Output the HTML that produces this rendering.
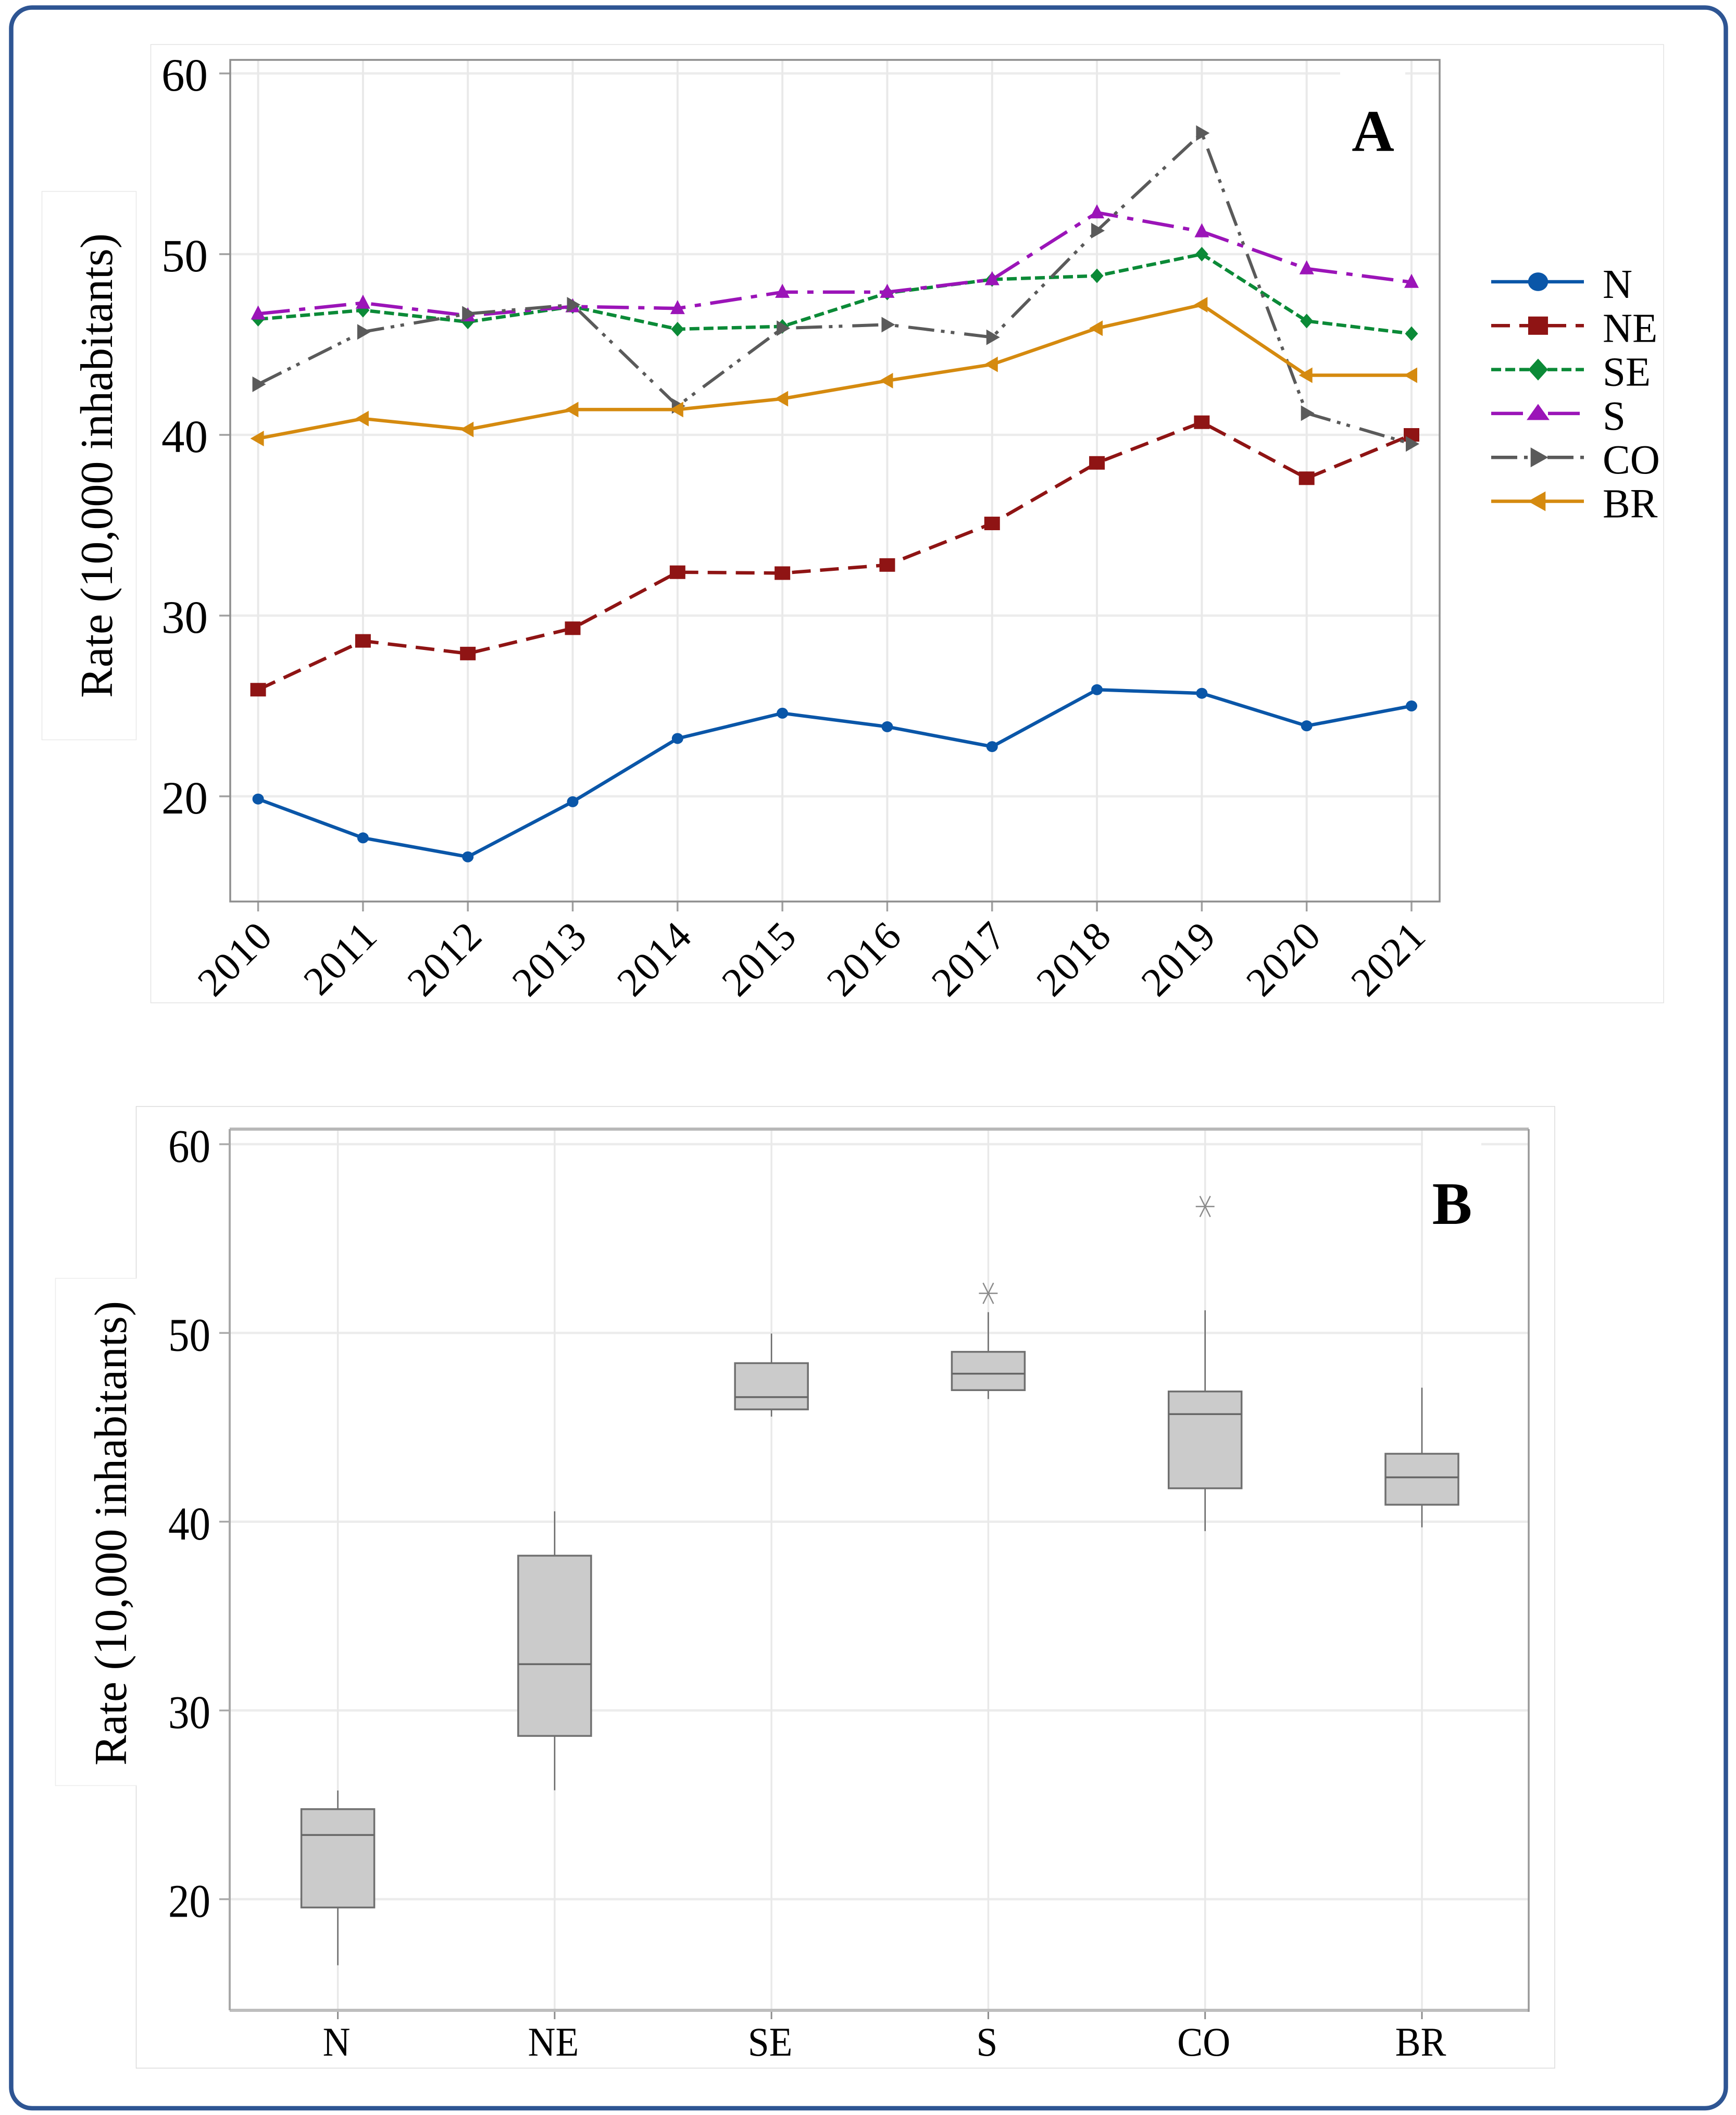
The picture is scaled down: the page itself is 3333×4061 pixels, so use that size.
<!DOCTYPE html>
<html lang="en">
<head>
<meta charset="utf-8">
<title>Rate per 10,000 inhabitants by region</title>
<style>
html,body{margin:0;padding:0;background:#fff;}
svg{display:block;font-family:"Liberation Serif",serif;}
</style>
</head>
<body>
<svg id="fig" xmlns="http://www.w3.org/2000/svg" width="3333" height="4061" viewBox="0 0 3333 4061">
  <rect x="0" y="0" width="3333" height="4061" fill="#ffffff"/>
  <rect x="21.5" y="14.5" width="3292" height="4033.5" rx="40" ry="40" fill="none" stroke="#2e5593" stroke-width="8.5"/>
  <rect x="289.5" y="85.5" width="2904.5" height="1840" fill="#fff" stroke="#e2e2e2" stroke-width="1.5"/>
  <rect x="80.5" y="367.5" width="181" height="1053" fill="#fff" stroke="#e8e8e8" stroke-width="1.5"/>
  <rect x="261.5" y="2124.5" width="2723.5" height="1846.5" fill="#fff" stroke="#dadada" stroke-width="1.5"/>
  <path d="M262 2454.5H106.5V3428.5H262" fill="#fff" stroke="#ececec" stroke-width="1.5"/>
  <rect x="258" y="2456" width="8" height="971" fill="#fff"/>

  <g id="chartA"></g>
  <g id="chartB"></g>

  <text transform="translate(215,894) rotate(-90)" text-anchor="middle" font-size="88" fill="#000">Rate (10,000 inhabitants)</text>
  <text transform="translate(242,2944) rotate(-90)" text-anchor="middle" font-size="88" fill="#000">Rate (10,000 inhabitants)</text>
  <text x="2636" y="290" text-anchor="middle" font-size="113" font-weight="bold" fill="#000">A</text>
  <text x="2788" y="2350" text-anchor="middle" font-size="115" font-weight="bold" fill="#000">B</text>
</svg>
<script>
// ---------- Panel A data ----------
const years = ['2010','2011','2012','2013','2014','2015','2016','2017','2018','2019','2020','2021'];
const yTicksA = [20,30,40,50,60];
const seriesN  = [19.85,17.7,16.65,19.7,23.2,24.6,23.85,22.75,25.9,25.7,23.9,25.0];
const seriesNE = [25.9,28.6,27.9,29.3,32.4,32.35,32.8,35.1,38.45,40.7,37.6,40.0];
const seriesSE = [46.4,46.9,46.25,47.1,45.85,46.0,47.85,48.6,48.8,50.0,46.3,45.6];
const seriesS  = [46.7,47.3,46.6,47.1,47.0,47.9,47.9,48.6,52.3,51.25,49.2,48.45];
const seriesCO = [42.8,45.7,46.7,47.2,41.6,45.9,46.1,45.4,51.3,56.7,41.2,39.5];
const seriesBR = [39.8,40.9,40.3,41.4,41.4,42.0,43.0,43.9,45.9,47.2,43.3,43.3];

// ---------- Panel B data ----------
const regions = ['N','NE','SE','S','CO','BR'];
const yTicksB = [20,30,40,50,60];
const boxMin    = [16.5,25.77,45.57,46.5,39.5,39.7];
const boxQ1     = [19.56,28.65,45.95,46.97,41.77,40.9];
const boxMedian = [23.4,32.45,46.6,47.84,45.7,42.35];
const boxQ3     = [24.77,38.2,48.4,49.0,46.9,43.6];
const boxMax    = [25.76,40.55,49.97,51.1,51.2,47.1];
const boxOutlier = [null,null,null,52.1,56.7,null];

// ---------- Helpers ----------
const NS = 'http://www.w3.org/2000/svg';
function el(tag, attrs, parent){
  const n = document.createElementNS(NS, tag);
  for (const k in attrs) n.setAttribute(k, attrs[k]);
  if (parent) parent.appendChild(n);
  return n;
}

// ---------- Axis functions ----------
const frameA = {l:442, t:115, r:2764, b:1731};
const frameB = {l:441, t:2168, r:2935, b:3860};
function xA(i){ return 495.6 + i * (2710 - 495.6) / (years.length - 1); }
function yA(v){ return 1529 - (v - 20) * 34.7; }
function xB(i){ return 648.6 + i * (2730 - 648.6) / (regions.length - 1); }
function yB(v){ return 3646.6 - (v - 20) * 36.24; }

// ---------- Marker drawing ----------
function marker(parent, shape, cx, cy, color, kx, ky){
  if (shape === 'circle') {
    return el('ellipse', {cx:cx, cy:cy, rx:11*kx, ry:10.5*ky, fill:color}, parent);
  }
  if (shape === 'square') {
    return el('rect', {x:cx-15*kx, y:cy-13*ky, width:30*kx, height:26*ky, fill:color}, parent);
  }
  let pts;
  if (shape === 'diamond') pts = [[0,-14],[12.5,0],[0,14],[-12.5,0]];
  if (shape === 'up') pts = [[0,-16],[14,11],[-14,11]];
  if (shape === 'right') pts = [[15,0],[-11,-15],[-11,15]];
  if (shape === 'left') pts = [[-15,0],[11,-15],[11,15]];
  const str = pts.map(p => (cx + p[0]*kx) + ',' + (cy + p[1]*ky)).join(' ');
  return el('polygon', {points:str, fill:color}, parent);
}

// ---------- Panel A ----------
const gA = document.getElementById('chartA');
const seriesList = [
  {label:'N',  values:seriesN,  color:'#0a56a8', dash:'',                 shape:'circle',  w:6.5, kx:1.75, ky:1.7},
  {label:'NE', values:seriesNE, color:'#8f1414', dash:'36 18',            shape:'square',  w:6.5, kx:1.27, ky:1.35},
  {label:'SE', values:seriesSE, color:'#0b8a37', dash:'19 8',             shape:'diamond', w:6.5, kx:1.52, ky:1.5},
  {label:'S',  values:seriesS,  color:'#9b14b8', dash:'61 18 12 18',      shape:'up',      w:6.5, kx:1.57, ky:1.15},
  {label:'CO', values:seriesCO, color:'#5a5a5a', dash:'50 13 7 12 7 19',  shape:'right',   w:6,   kx:1.3,  ky:1.27},
  {label:'BR', values:seriesBR, color:'#d58a0f', dash:'',                 shape:'left',    w:6.5, kx:1.3,  ky:1.27}
];

const gridA = el('g', {}, gA);


yTicksA.forEach(t => {
  const g = el('line', {x1:frameA.l, x2:frameA.r, y1:yA(t), y2:yA(t), stroke:'#ececec', 'stroke-width':4.5}, gridA);
  
  
  const tk = el('line', {x1:frameA.l-21, x2:frameA.l, y1:yA(t), y2:yA(t), stroke:'#a0a0a0', 'stroke-width':3.5}, gridA);
  
  
  const lb = el('text', {x:399, y:yA(t)+33, 'text-anchor':'end', 'font-size':89, fill:'#000'}, gridA);
  
  
  lb.textContent = String(t);
});
years.forEach((yr, i) => {
  const g = el('line', {x1:xA(i), x2:xA(i), y1:frameA.t, y2:frameA.b, stroke:'#e9e9e9', 'stroke-width':4}, gridA);
  
  
  const tk = el('line', {x1:xA(i), x2:xA(i), y1:frameA.b, y2:frameA.b+19, stroke:'#a0a0a0', 'stroke-width':3.5}, gridA);
  
  
  const lb = el('text', {transform:'translate(' + (xA(i)+32) + ',1801) rotate(-45)', 'text-anchor':'end', 'font-size':78, 'letter-spacing':2, fill:'#000'}, gridA);
  
  
  lb.textContent = yr;
});
const maskA = el('rect', {x:2573, y:130, width:125, height:22, fill:'#fff'}, gridA);


const frameRectA = el('rect', {x:frameA.l, y:frameA.t, width:frameA.r-frameA.l, height:frameA.b-frameA.t, fill:'none', stroke:'#8e8e8e', 'stroke-width':3.5}, gA);



seriesList.forEach(s => {
  const g = el('g', {}, gA);
  
  
  const d = s.values.map((v, i) => (i ? 'L' : 'M') + xA(i).toFixed(1) + ' ' + yA(v).toFixed(1)).join(' ');
  const attrs = {d:d, fill:'none', stroke:s.color, 'stroke-width':s.w, 'stroke-linejoin':'round'};
  if (s.dash) attrs['stroke-dasharray'] = s.dash;
  const line = el('path', attrs, g);
  
  
  s.values.forEach((v, i) => {
    const m = marker(g, s.shape, xA(i), yA(v), s.color, 1, 1);
    
    
  });
});

// Legend
const legend = el('g', {}, gA);


seriesList.forEach((s, i) => {
  const ly = 541 + i * 84.3;
  const entry = el('g', {}, legend);
  
  
  const attrs = {x1:2863, x2:3041, y1:ly, y2:ly, stroke:s.color, 'stroke-width':6.5};
  if (s.dash) attrs['stroke-dasharray'] = s.dash;
  const ln = el('line', attrs, entry);
  
  
  const m = marker(entry, s.shape, 2953, ly, s.color, s.kx, s.ky);
  
  
  const t = el('text', {x:3077, y:ly+31, 'font-size':79, fill:'#000'}, entry);
  
  
  t.textContent = s.label;
});

// ---------- Panel B ----------
const gB = document.getElementById('chartB');
const gridB = el('g', {}, gB);


yTicksB.forEach(t => {
  const g = el('line', {x1:frameB.l, x2:frameB.r, y1:yB(t), y2:yB(t), stroke:'#ececec', 'stroke-width':4.5}, gridB);
  
  
  const tk = el('line', {x1:frameB.l-20, x2:frameB.l, y1:yB(t), y2:yB(t), stroke:'#aaa', 'stroke-width':3.5}, gridB);
  
  
  const lb = el('text', {transform:'translate(404,' + (yB(t)+34) + ') scale(0.9,1)', 'text-anchor':'end', 'font-size':90, fill:'#000'}, gridB);
  
  
  lb.textContent = String(t);
});
regions.forEach((r, i) => {
  const g = el('line', {x1:xB(i), x2:xB(i), y1:frameB.t, y2:frameB.b, stroke:'#e9e9e9', 'stroke-width':3.5}, gridB);
  
  
  const tk = el('line', {x1:xB(i), x2:xB(i), y1:frameB.b, y2:frameB.b+17, stroke:'#8c8c8c', 'stroke-width':3}, gridB);
  
  
  const lb = el('text', {transform:'translate(' + (xB(i)-2.5) + ',3947) scale(0.94,1)', 'text-anchor':'middle', 'font-size':78, fill:'#000'}, gridB);
  
  
  lb.textContent = r;
});
const maskB = el('rect', {x:2732, y:2186, width:112, height:22, fill:'#fff'}, gridB);


const frameTopB = el('line', {x1:frameB.l, x2:frameB.r, y1:frameB.t, y2:frameB.t, stroke:'#b8b8b8', 'stroke-width':6}, gB);


const frameBottomB = el('line', {x1:frameB.l, x2:frameB.r, y1:frameB.b, y2:frameB.b, stroke:'#bdbdbd', 'stroke-width':6}, gB);


const frameLeftB = el('line', {x1:frameB.l, x2:frameB.l, y1:frameB.t, y2:frameB.b, stroke:'#a8a8a8', 'stroke-width':4}, gB);


const frameRightB = el('line', {x1:frameB.r, x2:frameB.r, y1:frameB.t, y2:frameB.b+3, stroke:'#999', 'stroke-width':3.5}, gB);



const boxHalf = 70;
regions.forEach((r, i) => {
  const cx = xB(i);
  const g = el('g', {}, gB);
  
  
  const w = el('line', {x1:cx, x2:cx, y1:yB(boxMax[i]), y2:yB(boxMin[i]), stroke:'#6a6a6a', 'stroke-width':2.5}, g);
  
  
  const b = el('rect', {x:cx-boxHalf, y:yB(boxQ3[i]), width:boxHalf*2, height:yB(boxQ1[i])-yB(boxQ3[i]), fill:'#cbcbcb', stroke:'#707070', 'stroke-width':3.5}, g);
  
  
  const med = el('line', {x1:cx-boxHalf, x2:cx+boxHalf, y1:yB(boxMedian[i]), y2:yB(boxMedian[i]), stroke:'#666', 'stroke-width':3.5}, g);
  
  
  if (boxOutlier[i] !== null) {
    const oy = yB(boxOutlier[i]);
    const o = el('path', {d:'M' + (cx-10) + ' ' + (oy-20) + 'L' + (cx+10) + ' ' + (oy+20) + 'M' + (cx+10) + ' ' + (oy-20) + 'L' + (cx-10) + ' ' + (oy+20) + 'M' + (cx-18) + ' ' + oy + 'L' + (cx+18) + ' ' + oy, fill:'none', stroke:'#8a8a8a', 'stroke-width':2.5}, g);
    
    
  }
});
</script>
</body>
</html>
